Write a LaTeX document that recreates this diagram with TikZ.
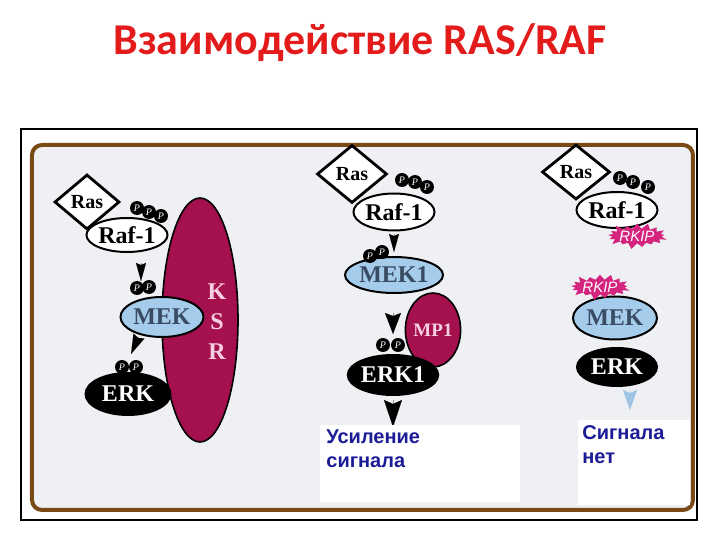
\documentclass[tikz,border=0pt]{standalone}
\usepackage{fontspec}
\setmainfont{Liberation Serif}
\newfontfamily\headfont{Carlito}
\newfontfamily\notefont{Liberation Sans}
\usetikzlibrary{shapes.geometric,shapes.symbols,arrows.meta}
\definecolor{headred}{HTML}{E31B1B}
\definecolor{framebrown}{HTML}{7A4A16}
\definecolor{panelgray}{HTML}{EEF0F3}
\definecolor{ksrred}{HTML}{A5104F}
\definecolor{ksrpink}{HTML}{F6CFE0}
\definecolor{mekblue}{HTML}{A6CCEC}
\definecolor{mektext}{HTML}{3A4C63}
\definecolor{rkippink}{HTML}{D4247E}
\definecolor{notenavy}{HTML}{1C1C96}
\definecolor{faintblue}{HTML}{9FC3E2}

\begin{document}
\begin{tikzpicture}[x=0.5pt,y=-0.5pt]
\tikzstyle{every node}+=[inner sep=0pt]
\tikzstyle{ras}=[diamond, draw, line width=1.4pt, fill=white, font=\bfseries\fontsize{10}{10}\selectfont]
\tikzstyle{raf}=[ellipse, draw, line width=1pt, fill=white, font=\bfseries\fontsize{12}{12}\selectfont]
\tikzstyle{mek}=[ellipse, draw, line width=1pt, fill=mekblue, text=mektext, font=\bfseries\fontsize{12}{12}\selectfont]
\tikzstyle{erk}=[ellipse, draw, line width=1pt, fill=black, text=white, font=\bfseries\fontsize{12}{12}\selectfont]
\tikzstyle{scaff}=[ellipse, draw, line width=0.8pt, fill=ksrred, text=ksrpink, font=\bfseries\fontsize{9.5}{9.5}\selectfont]
\tikzstyle{phos}=[circle, fill=black, text=white, minimum size=7pt, font=\itshape\fontsize{5}{5}\selectfont]
\tikzstyle{rkip}=[starburst, starburst points=17, starburst point height=3.5pt, fill=rkippink, text=white, font=\notefont\itshape\fontsize{7.5}{7.5}\selectfont]
\tikzstyle{sig}=[line width=0.01pt]
\tikzstyle{notebox}=[fill=white, anchor=north west]
\tikzstyle{note}=[anchor=north west, align=left, text=notenavy, font=\notefont\bfseries\fontsize{10}{12}\selectfont]
\path[use as bounding box, fill=white] (0,0) rectangle (720,540);
% title and frames
\node[text=headred, font=\headfont\bfseries\fontsize{22}{22}\selectfont] (title) at (360,43) {Взаимодействие RAS/RAF};
\draw[line width=0.6pt] (21,129) rectangle (697,520);
\draw[framebrown, line width=2pt, rounded corners=5pt, fill=panelgray] (32,145) rectangle (693,510);
% left: KSR scaffold
\node[scaff, minimum width=38pt, minimum height=122pt] (ksr) at (200,320) {};
\node[text=ksrpink, align=center, font=\bfseries\fontsize{12}{12}\selectfont] (ksrlbl) at (217,322) {K\\[3pt]S\\[3pt]R};
\node[ras, minimum width=32.5pt, minimum height=27.5pt] (ras1) at (87,202) {Ras};
\node[raf, minimum width=35pt, minimum height=17pt] (raf1) at (127,235) {Raf-1};
\node[phos] (p1a) at (137,208) {P};
\node[phos] (p1b) at (149,212) {P};
\node[phos] (p1c) at (161,216) {P};
\coordinate (a1s) at (141,263);
\coordinate (a1e) at (141,281);
\draw[sig, -{Stealth[length=9pt,width=5pt,inset=1pt]}] (a1s) -- (a1e);
\node[mek, minimum width=41.5pt, minimum height=20pt] (mek1) at (162,317) {MEK};
\node[phos] (p1d) at (137,288) {P};
\node[phos] (p1e) at (149,287) {P};
\coordinate (a2s) at (139,336);
\coordinate (a2e) at (131,354);
\draw[sig, -{Stealth[length=9.8pt,width=6pt,inset=1pt]}] (a2s) -- (a2e);
\node[erk, minimum width=42.5pt, minimum height=21pt] (erk1) at (128,394) {ERK};
\node[phos] (p1f) at (122,367) {P};
\node[phos] (p1g) at (136,367) {P};
% middle: MP1 scaffold
\node[scaff, minimum width=23.5pt, minimum height=37pt] (mp1) at (433,330) {MP1};
\node[ras, minimum width=35pt, minimum height=29pt] (ras2) at (352,174) {Ras};
\node[raf, minimum width=39pt, minimum height=18.5pt] (raf2) at (394,212) {Raf-1};
\node[phos] (p2a) at (402,180) {P};
\node[phos] (p2b) at (415,182) {P};
\node[phos] (p2c) at (427,187) {P};
\coordinate (b1s) at (394,234);
\coordinate (b1e) at (394,252);
\draw[sig, -{Stealth[length=9pt,width=5pt,inset=1pt]}] (b1s) -- (b1e);
\node[mek, minimum width=44pt, minimum height=18pt] (mek2) at (394,275) {MEK1};
\node[phos] (p2d) at (370,256) {P};
\node[phos] (p2e) at (382,252) {P};
\coordinate (b2s) at (393,313);
\coordinate (b2e) at (393,334);
\draw[sig, -{Stealth[length=10.5pt,width=8pt,inset=1.5pt]}] (b2s) -- (b2e);
\node[erk, minimum width=42.5pt, minimum height=20pt] (erk2) at (393,375) {ERK1};
\node[phos] (p2f) at (383,345) {P};
\node[phos] (p2g) at (398,345) {P};
\coordinate (b3s) at (393,400);
\coordinate (b3e) at (393,427);
\draw[sig, -{Stealth[length=13.5pt,width=9pt,inset=2pt]}] (b3s) -- (b3e);
\node[notebox, minimum width=100pt, minimum height=38.5pt] (gainbox) at (320,425) {};
\node[note] (gain) at (326,429) {Усиление\\сигнала};
% right: RKIP blocks the cascade
\node[ras, minimum width=34pt, minimum height=27.5pt] (ras3) at (576,172) {Ras};
\node[raf, minimum width=40pt, minimum height=18pt] (raf3) at (617,210) {Raf-1};
\node[phos] (p3a) at (620,178) {P};
\node[phos] (p3b) at (633,182) {P};
\node[phos] (p3c) at (648,187) {P};
\node[rkip, minimum width=30pt, minimum height=12.5pt] (rkip1) at (637,236) {RKIP};
\node[mek, minimum width=42pt, minimum height=21.5pt] (mek3) at (615,318) {MEK};
\node[rkip, minimum width=30pt, minimum height=11.5pt] (rkip2) at (600,287) {RKIP};
\node[erk, minimum width=40pt, minimum height=19pt] (erk3) at (617,367) {ERK};
\coordinate (c1s) at (630,390);
\coordinate (c1e) at (630,410);
\draw[sig, faintblue, -{Stealth[length=10pt,width=7pt,inset=1.5pt]}] (c1s) -- (c1e);
\node[notebox, minimum width=56pt, minimum height=42.5pt] (nosigbox) at (578,420) {};
\node[note] (nosig) at (582,425) {Сигнала\\нет};
\end{tikzpicture}
\end{document}
